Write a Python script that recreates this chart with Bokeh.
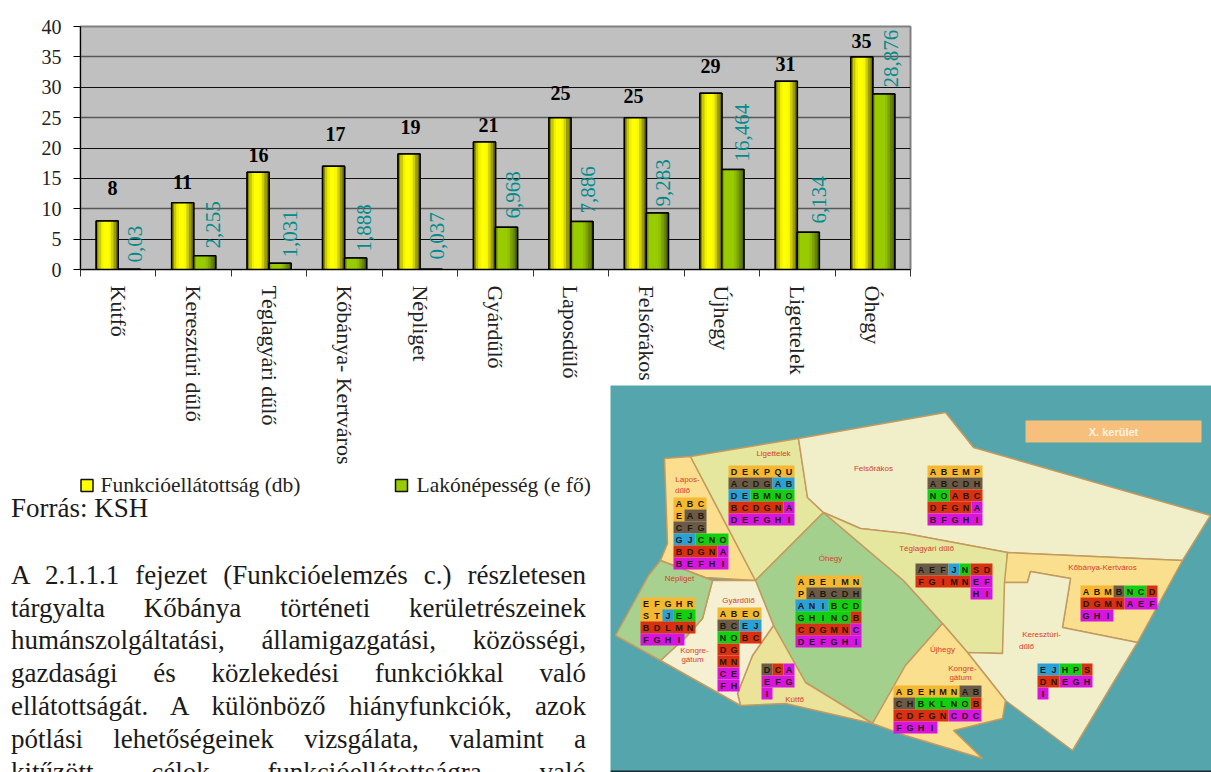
from math import pi
from bokeh.plotting import figure
from bokeh.models import (FixedTicker, Div, Range1d)
from bokeh.core.properties import value
from bokeh.embed import file_html
from bokeh.resources import INLINE

SERIF = "Liberation Serif"

# ---------- chart data ----------
categories = ["Kútfő", "Keresztúri dűlő", "Téglagyári dűlő", "Kőbánya- Kertváros", "Népliget",
              "Gyárdűlő", "Laposdűlő", "Felsőrákos", "Újhegy", "Ligettelek", "Óhegy"]
funkcio = [8, 11, 16, 17, 19, 21, 25, 25, 29, 31, 35]
lakos = [0.03, 2.255, 1.031, 1.888, 0.037, 6.968, 7.886, 9.283, 16.464, 6.134, 28.876]
lakos_text = ["0,03", "2,255", "1,031", "1,888", "0,037", "6,968", "7,886", "9,283", "16,464", "6,134", "28,876"]
y_ticks = [0, 5, 10, 15, 20, 25, 30, 35, 40]
dark_grid = [5, 15, 20, 30]
soft_grid = [10, 25, 35]
series_names = ["Funkcióellátottság (db)", "Lakónépesség (e fő)"]

# hand-placed label anchors of the original chart (reference pixels)
funkcio_label_px = [(112, 187), (182, 181), (258, 154), (335, 133), (410, 126), (488, 124),
                    (560, 92), (633, 95), (710, 65), (785, 63), (861, 40)]
lakos_label_px = [(134, 262), (212, 248), (289, 257), (363, 251), (436, 259), (512, 218),
                  (587, 213), (662, 206), (741, 161), (818, 223), (890, 87)]

PX_L, PX_R, PX_T, PX_B = 80, 910, 26, 269


def to_x(px):
    return (px - PX_L) / (PX_R - PX_L) * len(categories)


def to_y(py):
    return (PX_B - py) / (PX_B - PX_T) * 40


yellow_ramp = ["#8a8a00", "#c8c800", "#f0f000", "#ffff00", "#ffff00", "#f8f800", "#d0d000", "#9c9c00", "#6e6e00"]
green_ramp = ["#7fa800", "#99cc00", "#99cc00", "#99cc00", "#99cc00", "#8fbd00", "#7da300", "#668500", "#4f6800"]

CHART_W, CHART_H = 1000, 480
p = figure(width=CHART_W, height=CHART_H, x_range=Range1d(0, len(categories)), y_range=Range1d(0, 40),
           toolbar_location=None, output_backend="svg", tools="",
           min_border_left=PX_L, min_border_right=CHART_W - PX_R,
           min_border_top=PX_T, min_border_bottom=CHART_H - PX_B,
           styles={"position": "absolute", "left": "0px", "top": "0px"})
p.background_fill_color = "#c0c0c0"
p.border_fill_alpha = 0
p.outline_line_color = "#808080"
p.outline_line_width = 2
p.xgrid.visible = False
p.ygrid.ticker = FixedTicker(ticks=dark_grid)
p.ygrid.grid_line_color = "#101010"
p.ygrid.grid_line_width = 1
p.hspan(y=soft_grid, line_color="#585858", line_width=1.5)

p.yaxis.ticker = FixedTicker(ticks=y_ticks)
p.yaxis.minor_tick_line_color = None
p.yaxis.major_tick_out = 7
p.yaxis.major_tick_in = 0
p.yaxis.major_tick_line_color = "black"
p.yaxis.axis_line_color = "black"
p.yaxis.major_label_text_font = SERIF
p.yaxis.major_label_text_font_size = "20px"
p.yaxis.major_label_text_color = "#222222"
p.yaxis.major_label_standoff = 12

centers = [i + 0.5 for i in range(len(categories))]
p.xaxis.ticker = FixedTicker(ticks=centers, minor_ticks=list(range(len(categories) + 1)))
p.xaxis.major_label_overrides = {c: n for c, n in zip(centers, categories)}
p.xaxis.major_label_orientation = -pi / 2
p.xaxis.major_label_text_font = SERIF
p.xaxis.major_label_text_font_size = "22px"
p.xaxis.major_label_text_color = "#222222"
p.xaxis.major_label_standoff = 9
p.xaxis.major_tick_line_color = None
p.xaxis.minor_tick_out = 7
p.xaxis.minor_tick_in = 0
p.xaxis.minor_tick_line_color = "#333333"
p.xaxis.axis_line_color = "black"

BAR_W = 22 / ((PX_R - PX_L) / len(categories))


def bars(vals, shift, ramp, base_color):
    xs = [c + shift for c in centers]
    base = p.vbar(x=xs, top=vals, width=BAR_W, fill_color=base_color, line_color="black", line_width=1.5)
    n = len(ramp)
    for k, col in enumerate(ramp):
        off = (k + 0.5 - n / 2) * BAR_W / n
        p.vbar(x=[x + off for x in xs], top=vals, width=BAR_W / n * 1.05, fill_color=col, line_color=None)
    p.vbar(x=xs, top=vals, width=BAR_W, fill_color=None, line_color="black", line_width=1.5)
    return base


bars(funkcio, -BAR_W / 2, yellow_ramp, "#ffff00")
bars(lakos, BAR_W / 2, green_ramp, "#99cc00")

p.text(x=[to_x(a) for a, _ in funkcio_label_px], y=[to_y(b) for _, b in funkcio_label_px],
       text=[str(v) for v in funkcio], text_font=value(SERIF), text_font_style="bold",
       text_font_size="20px", text_color="black", text_align="center", text_baseline="middle")
p.text(x=[to_x(a) for a, _ in lakos_label_px], y=[to_y(b) for _, b in lakos_label_px],
       text=lakos_text, angle=pi / 2, text_font=value(SERIF), text_font_size="21px",
       text_color="#008c8c", text_align="left", text_baseline="middle")

# ---------- legend strip (own small figure, reference pixel coordinates) ----------
LG_X0, LG_X1, LG_Y0, LG_Y1 = 75, 605, 466, 506
lg = figure(width=LG_X1 - LG_X0, height=LG_Y1 - LG_Y0, x_range=Range1d(LG_X0, LG_X1), y_range=Range1d(LG_Y1, LG_Y0),
            toolbar_location=None, output_backend="svg", tools="", min_border=0, margin=0,
            styles={"position": "absolute", "left": f"{LG_X0}px", "top": f"{LG_Y0}px"})
lg.axis.visible = False
lg.grid.visible = False
lg.outline_line_color = None
lg.background_fill_alpha = 0
lg.border_fill_alpha = 0
lg.rect(x=[86.5, 401], y=[485, 485], width=12, height=12, fill_color=["#ffff00", "#99cc00"],
        line_color="#111111", line_width=1.5)
lg.text(x=[100, 416], y=[484, 484], text=series_names, text_font=value(SERIF), text_font_size="21.5px",
        text_color="#222222", text_align="left", text_baseline="middle")

# ---------- body text ----------
para_lines = ["A 2.1.1.1 fejezet (Funkcióelemzés c.) részletesen",
              "tárgyalta Kőbánya történeti kerületrészeinek",
              "humánszolgáltatási, államigazgatási, közösségi,",
              "gazdasági és közlekedési funkciókkal való",
              "ellátottságát. A különböző hiányfunkciók, azok",
              "pótlási lehetőségeinek vizsgálata, valamint a",
              "kitűzött célok funkcióellátottságra való"]
source_line = "Forrás: KSH"

text_div = Div(text=("<div style='width:575px'><div style='text-align-last:left'>" + source_line
                     + "</div><div style='height:34px'></div>" + "<br>".join(para_lines) + "</div>"),
               width=575, height=280, margin=0,
               styles={"position": "absolute", "left": "11px", "top": "492px",
                       "font-family": SERIF, "font-size": "27px", "line-height": "32.8px", "color": "#1a1a1a",
                       "text-align": "justify", "text-align-last": "justify", "overflow": "hidden"})

# ---------- district map (reference pixel coordinates) ----------
C_WATER = "#55a5ad"
regions = {
    "Laposdulo": ([(664, 458), (690, 456), (755, 580), (705, 577), (660, 560), (667, 543)], "#fbdf8f"),
    "Ligettelek": ([(690, 456), (798, 438), (807, 497), (823, 512), (755, 580)], "#e6e79e"),
    "Felsorakos": ([(798, 438), (945, 412), (973, 447), (1210, 515), (1182, 560), (1007, 552), (905, 533),
                    (860, 528), (823, 512), (807, 497)], "#f1efc9"),
    "Ohegy": ([(823, 512), (903, 580), (942, 623), (905, 665), (872, 723), (805, 682), (773, 625), (755, 580)], "#a4d08e"),
    "Teglagyari": ([(823, 512), (860, 528), (905, 533), (1007, 552), (1002, 653), (967, 652), (942, 623), (903, 580)], "#e6e79e"),
    "Kertvaros": ([(1007, 552), (1182, 560), (1137, 642), (1062, 627), (1070, 578), (1030, 571), (1027, 582), (1004, 582)], "#fadf8f"),
    "Kereszturi": ([(1004, 582), (1027, 582), (1030, 571), (1070, 578), (1062, 627), (1137, 642), (1072, 750),
                    (1005, 700), (967, 652), (1002, 653)], "#f1efc9"),
    "Ujhegy": ([(942, 623), (967, 652), (1005, 700), (1002, 718), (953, 730), (982, 758), (905, 735), (872, 723), (905, 665)], "#fadf8f"),
    "Kutfo": ([(773, 625), (805, 682), (872, 723), (785, 703), (740, 705), (737, 693), (752, 655)], "#ebe39a"),
    "Gyardulo": ([(712, 580), (755, 580), (773, 625), (752, 655), (737, 693), (740, 705), (660, 660), (685, 637), (702, 618)], "#f5f0d2"),
    "Nepliget": ([(660, 560), (712, 580), (702, 618), (685, 637), (660, 660), (615, 635), (648, 575)], "#a8d08e"),
}

O, B, C, G, R, M = "#f5b830", "#6a5a48", "#2aa0d8", "#10d010", "#d83010", "#d815e0"
blocks = [
    (728, 465, [[("DEKPQU", O)], [("ACDG", B), ("AB", C)], [("DE", C), ("BMNO", G)], [("BCDGN", R), ("A", M)], [("DEFGHI", M)]]),
    (673, 497, [[("ABC", O)], [("E", O), ("AB", B)], [("CFG", B)], [("GJ", C), ("CNO", G)], [("BDGN", R), ("A", M)], [("BEFHI", M)]]),
    (640, 597, [[("EFGHR", O)], [("ST", O), ("J", C), ("EJ", G)], [("BDLMN", R)], [("FGHI", M)]]),
    (717, 607, [[("ABEO", O)], [("BC", B), ("EJ", C)], [("NO", G), ("BC", R)], [("DG", R)], [("MN", R)], [("CE", M)], [("FH", M)]]),
    (761, 663, [[("D", B), ("C", R), ("A", M)], [("EFG", M)], [("I", M)]]),
    (795, 575, [[("ABEIMN", O)], [("P", O), ("ABCDH", B)], [("ANI", C), ("BCD", G)], [("GHINO", G), ("B", R)], [("CDGMN", R), ("C", M)], [("DEFGHI", M)]]),
    (927, 465, [[("ABEMP", O)], [("ABCDH", B)], [("NO", G), ("ABC", R)], [("DFGN", R), ("A", M)], [("BFGHI", M)]]),
    (915, 563, [[("AEF", B), ("J", C), ("N", G), ("SD", R)], [("FGIMN", R), ("EF", M)], [("     ", None), ("HI", M)]]),
    (1080, 585, [[("ABM", O), ("B", B), ("NC", G), ("D", R)], [("DGMN", R), ("AEF", M)], [("GHI", M)]]),
    (1037, 663, [[("EJ", C), ("HP", G), ("S", R)], [("DN", R), ("EGH", M)], [("I", M)]]),
    (893, 685, [[("ABEHMN", O), ("AB", B)], [("CH", B), ("BKLNO", G), ("B", R)], [("CDFGN", R), ("CDC", M)], [("FGHI", M)]]),
]
region_names = [("Ligettelek", 773, 453), ("Lapos-", 687, 479), ("dűlő", 682, 490), ("Felsőrákos", 873, 468),
                ("Óhegy", 830, 558), ("Téglagyári dűlő", 926, 548), ("Kőbánya-Kertváros", 1102, 567),
                ("Népliget", 679, 578), ("Gyárdűlő", 738, 600), ("Kongre-", 694, 650), ("gátum", 692, 659),
                ("Kútfő", 794, 699), ("Kongre-", 962, 668), ("gátum", 960, 677), ("Újhegy", 942, 649),
                ("Keresztúri-", 1041, 634), ("dűlő", 1026, 646)]

MAP_X0, MAP_X1, MAP_Y0, MAP_Y1 = 610, 1211, 385, 772
m = figure(width=MAP_X1 - MAP_X0, height=MAP_Y1 - MAP_Y0, x_range=Range1d(MAP_X0, MAP_X1), y_range=Range1d(MAP_Y1, MAP_Y0),
           toolbar_location=None, output_backend="svg", tools="", min_border=0, margin=0,
           styles={"position": "absolute", "left": f"{MAP_X0}px", "top": f"{MAP_Y0}px"})
m.axis.visible = False
m.grid.visible = False
m.outline_line_color = None
m.background_fill_color = C_WATER

m.patches(xs=[[a for a, _ in r[0]] for r in regions.values()], ys=[[b for _, b in r[0]] for r in regions.values()],
          fill_color=[r[1] for r in regions.values()], line_color="#c49a5e", line_width=1.5)

CW, CH = 11, 12
rx, ry, rw, rc, tx, ty, tt = [], [], [], [], [], [], []
for x0, y0, rows in blocks:
    for j, row in enumerate(rows):
        cx = x0
        for txt, col in row:
            n = len(txt)
            if col is not None:
                rx.append(cx + n * CW / 2)
                ry.append(y0 + (j + 0.5) * CH)
                rw.append(n * CW)
                rc.append(col)
                for q, ch in enumerate(txt):
                    tx.append(cx + (q + 0.5) * CW)
                    ty.append(y0 + (j + 0.5) * CH)
                    tt.append(ch)
            cx += n * CW
m.rect(x=rx, y=ry, width=rw, height=CH, fill_color=rc, line_color=None)
m.text(x=tx, y=ty, text=tt, text_font=value("Liberation Sans"), text_font_style="bold", text_font_size="9px",
       text_color="#201808", text_align="center", text_baseline="middle")
m.text(x=[n[1] for n in region_names], y=[n[2] for n in region_names], text=[n[0] for n in region_names],
       text_font=value("Liberation Sans"), text_font_size="8px", text_color="#d8402a",
       text_align="center", text_baseline="middle")

m.quad(left=[1025], right=[1201], top=[420], bottom=[442], fill_color="#f6c07c", line_color=None)
m.text(x=[1113], y=[431], text=["X. kerület"], text_font=value("Liberation Sans"), text_font_style="bold",
       text_font_size="11px", text_color="#fff4e0", text_align="center", text_baseline="middle")
m.quad(left=[MAP_X0], right=[MAP_X1], top=[770], bottom=[772], fill_color="#1c2c2e", line_color=None)

open("out.html", "w").write(file_html([p, lg, text_div, m], INLINE))
